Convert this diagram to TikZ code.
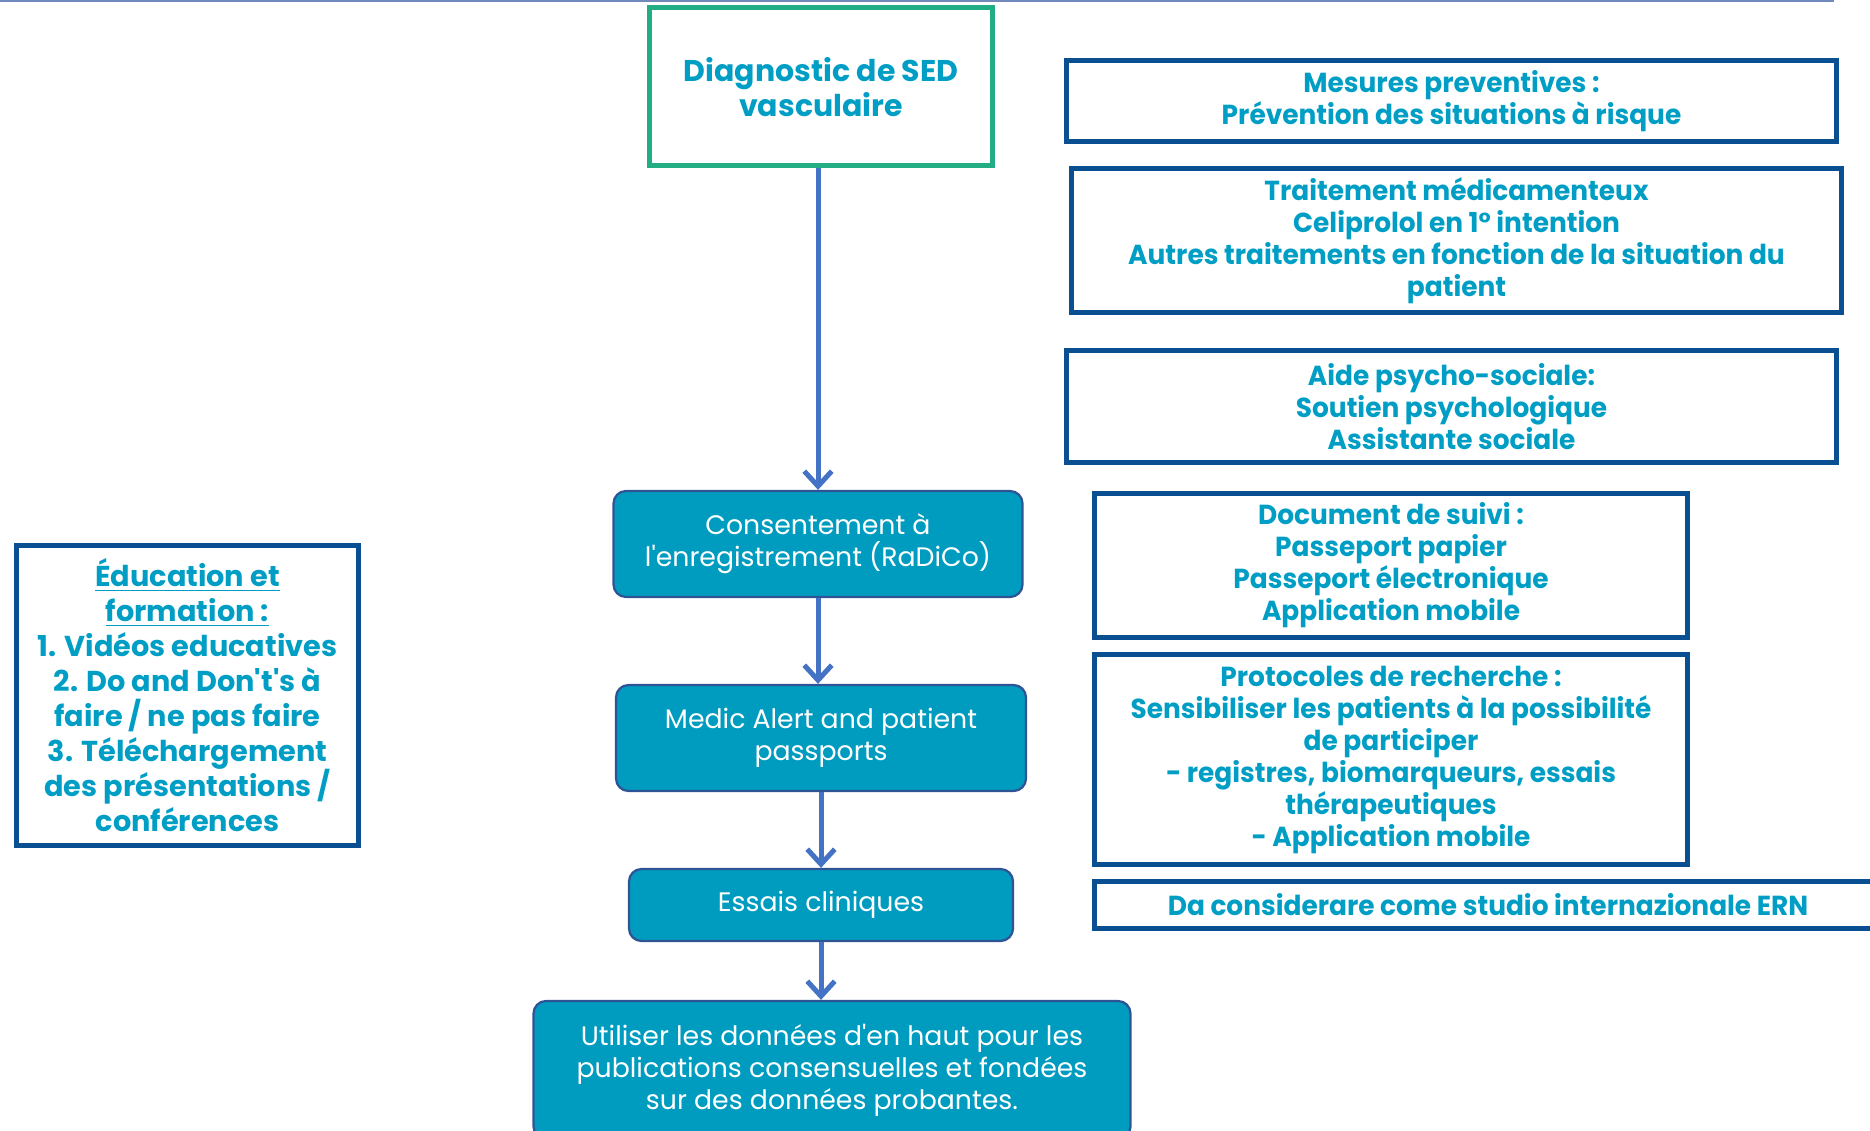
\documentclass[tikz,border=0pt]{standalone}
\usepackage{fontspec}
\setmainfont{Poppins}
\newfontfamily\narrowfont[FakeStretch=0.96]{Poppins}
\usepackage{tikz}
\usetikzlibrary{
  positioning,
  arrows.meta
}
\definecolor{myTeal}{HTML}{009EC4}
\definecolor{myFill}{HTML}{009CC0}
\definecolor{myNavy}{HTML}{0A4F92}
\definecolor{myGreen}{HTML}{23AD84}
\definecolor{myArrow}{HTML}{4472C4}
\definecolor{myBorder}{HTML}{2F5496}
\definecolor{myRule}{HTML}{7088BC}
\AtBeginDocument{\lineskiplimit=-20pt\relax}
\tikzstyle{arr}=[-{Straight Barb[length=6pt,width=11pt]}, line width=2pt, myArrow]
\tikzstyle{outbox}=[draw=myNavy, line width=2.2pt, text=myTeal, align=center, inner sep=0pt,
  font=\narrowfont\bfseries\fontsize{11}{12.8}\selectfont]
\tikzstyle{diagbox}=[draw=myGreen, line width=2pt, text=myTeal, align=center, inner sep=0pt,
  font=\bfseries\fontsize{12}{14}\selectfont]
\tikzstyle{edubox}=[outbox, font=\bfseries\fontsize{11.5}{14}\selectfont]
\tikzstyle{stepbox}=[draw=myBorder, line width=0.9pt, fill=myFill, rounded corners=5pt,
  text=white, align=center, inner sep=0pt, font=\fontsize{10.7}{12.8}\selectfont]
\tikzset{boxsize/.style 2 args={minimum width=#1*0.4pt, minimum height=#2*0.4pt}}
\newcommand{\apos}{\textquotesingle}

\begin{document}
\begin{tikzpicture}[x=0.4pt, y=-0.4pt]
      \useasboundingbox (0,0) rectangle (1870,1131);

      % filet du haut
      \draw[myRule, line width=0.8pt] (0,1) -- (1834,1);

      % chaîne centrale
      \node[diagbox, boxsize={343}{158}] (diag) at (821,87) {Diagnostic de SED\\vasculaire};
      \node[stepbox, boxsize={409}{106}] (cons) at (818,544) {Consentement à\\l\apos enregistrement (RaDiCo)};
      \node[stepbox, boxsize={410}{106}] (medic) at (821,738) {Medic Alert and patient\\passports};
      \node[stepbox, boxsize={384}{72}] (essais) at (821,905) {Essais cliniques};
      \node[stepbox, boxsize={597}{138}] (util) at (832,1070)
        {Utiliser les données d\apos en haut pour les\\publications consensuelles et fondées\\sur des données probantes.};

      % flèches
      \draw[arr] (diag.south -| cons) -- (cons.north);
      \draw[arr] (cons.south) -- (cons.south |- medic.north);
      \draw[arr] (medic.south) -- (medic.south |- essais.north);
      \draw[arr] (essais.south) -- (essais.south |- util.north);

      % encadrés de droite
      \node[outbox, boxsize={770}{81}] (mes) at (1451.5,101)
        {Mesures preventives :\\Prévention des situations à risque};
      \node[outbox, boxsize={770}{144}] (trait) at (1456.5,240.5)
        {Traitement médicamenteux\\Celiprolol en 1° intention\\Autres traitements en fonction de la situation du\\patient};
      \node[outbox, boxsize={770}{112}] (aide) at (1451.5,406.5)
        {Aide psycho-sociale:\\Soutien psychologique\\Assistante sociale};
      \node[outbox, boxsize={593}{144}] (doc) at (1391,565.5)
        {Document de suivi :\\Passeport papier\\Passeport électronique\\Application mobile};
      \node[outbox, boxsize={593}{210}] (proto) at (1391,759.5)
        {Protocoles de recherche :\\Sensibiliser les patients à la possibilité\\de participer\\- registres, biomarqueurs, essais\\thérapeutiques\\- Application mobile};
      \node[outbox, boxsize={787}{47}] (da) at (1488,905)
        {Da considerare come studio internazionale ERN};

      % encadré de gauche
      \node[edubox, boxsize={342}{300}] (edu) at (187.5,695.5)
        {\underline{Éducation et}\\\underline{formation :}\\1. Vidéos educatives\\2. Do and Don\apos t\apos s à\\faire / ne pas faire\\3. Téléchargement\\des présentations /\\conférences};
    \end{tikzpicture}
\end{document}
